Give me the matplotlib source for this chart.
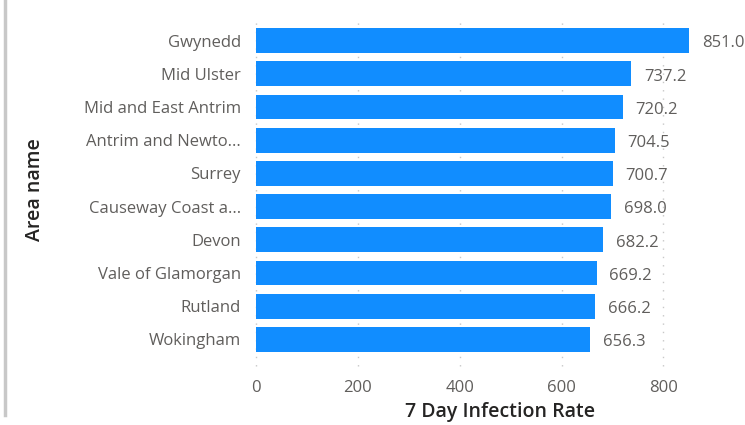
import matplotlib
matplotlib.use("Agg")
import matplotlib.pyplot as plt
from matplotlib.lines import Line2D

areas = ["Gwynedd", "Mid Ulster", "Mid and East Antrim", "Antrim and Newto...",
         "Surrey", "Causeway Coast a...", "Devon", "Vale of Glamorgan",
         "Rutland", "Wokingham"]
rates = [851.0, 737.2, 720.2, 704.5, 700.7, 698.0, 682.2, 669.2, 666.2, 656.3]
xticks = [0, 200, 400, 600, 800]

plt.rcParams['font.family'] = ['Open Sans', 'DejaVu Sans']

fig = plt.figure(figsize=(7.45, 4.25), dpi=100)
fig.patch.set_facecolor('white')
ax = fig.add_axes([256/745, 1-356/425, (699-256)/745, (356-24)/425])

y = list(range(len(areas)))
ax.barh(y, rates, height=0.75, color='#118DFF', zorder=2)
ax.set_ylim(len(areas)-0.5, -0.5)
ax.set_xlim(0, 870)
ax.set_yticks(y)
ax.set_yticklabels(areas, fontsize=12, color='#605E5C')
ax.set_xticks(xticks)
ax.set_xticklabels([str(t) for t in xticks], fontsize=12, color='#605E5C')
ax.tick_params(axis='y', length=0, pad=11)
ax.tick_params(axis='x', length=0, pad=17)
for s in ax.spines.values():
    s.set_visible(False)
for t in xticks:
    ax.axvline(t, ymin=-0.03, ymax=1.01, color='#C8C8C8', linestyle=(0, (1, 5)),
               linewidth=1, zorder=1, clip_on=False)

for yi, v in zip(y, rates):
    ax.annotate(f"{v:.1f}", xy=(v, yi), xytext=(9, -2), textcoords='offset points',
                va='center', ha='left', fontsize=12, color='#605E5C',
                annotation_clip=False)

fig.text(500/745, 1-412/425, "7 Day Infection Rate", fontsize=14, fontweight='semibold',
         color='#252423', ha='center', va='center')
fig.text(35/745, 1-190/425, "Area name", fontsize=14, fontweight='semibold',
         color='#252423', ha='center', va='center', rotation=90)

fig.add_artist(Line2D([5/745, 5/745], [1, 1-415/425], color='#C8C8C8', linewidth=2.5))

fig.savefig("out.png", dpi=100)
